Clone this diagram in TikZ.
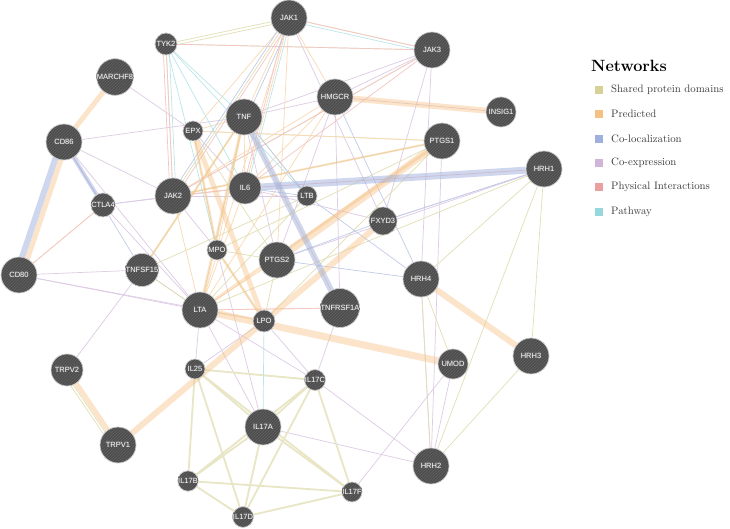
\documentclass[tikz,border=0pt]{standalone}
\usepackage{fontspec}
\usepackage[copies]{contour}
\usetikzlibrary{patterns,backgrounds}
\newfontfamily\labfont{Liberation Sans}
\definecolor{shd}{RGB}{214,210,150}
\definecolor{prd}{RGB}{246,192,128}
\definecolor{col}{RGB}{160,176,222}
\definecolor{cex}{RGB}{208,180,218}
\definecolor{phy}{RGB}{235,160,160}
\definecolor{pwy}{RGB}{150,216,220}
\definecolor{ndark}{RGB}{78,78,78}
\definecolor{nstripe}{RGB}{98,98,98}
\definecolor{nrim}{RGB}{205,205,205}
\definecolor{halo}{RGB}{95,95,95}
\definecolor{legtext}{RGB}{60,60,60}
\contourlength{0.55pt}
\newcommand\lbl[1]{\contour{halo}{#1}}
\tikzset{
  gn/.style={circle, minimum size=#1, inner sep=0pt, preaction={fill=ndark},
    pattern=north east lines, pattern color=nstripe, draw=nrim, line width=0.7pt,
    font=\labfont\fontsize{7.5}{8}\selectfont, text=white},
  sh/.style={draw=shd!70, line width=0.7pt},
  shm/.style={draw=shd!55, line width=1.8pt},
  pr/.style={draw=prd!60, line width=0.7pt},
  prt/.style={draw=prd, line width=#1, opacity=0.42},
  co/.style={draw=col!65, line width=0.7pt},
  cot/.style={draw=col, line width=#1, opacity=0.5},
  ce/.style={draw=cex!70, line width=0.7pt},
  ph/.style={draw=phy!60, line width=0.7pt},
  pw/.style={draw=pwy!65, line width=0.7pt},
  legsq/.style={minimum size=7.5pt, inner sep=0pt},
  legtx/.style={anchor=west, inner sep=0pt, text=legtext, font=\fontsize{10.8}{12}\selectfont}
}
\begin{document}
\begin{tikzpicture}[x=1pt,y=-1pt]
\useasboundingbox (0,0) rectangle (730,529);
% nodes
\node[gn=36pt] (jak1) at (289,18) {\lbl{JAK1}};
\node[gn=22pt] (tyk2) at (166,44) {\lbl{TYK2}};
\node[gn=36pt] (jak3) at (432,50) {\lbl{JAK3}};
\node[gn=24pt] (marchf8) at (115,77) {\lbl{MARCHF8}};
\node[gn=36pt] (hmgcr) at (335,97) {\lbl{HMGCR}};
\node[gn=30pt] (insig1) at (501,112) {\lbl{INSIG1}};
\node[gn=36pt] (tnf) at (244,117) {\lbl{TNF}};
\node[gn=20pt] (epx) at (193,131) {\lbl{EPX}};
\node[gn=36pt] (cd86) at (64,142) {\lbl{CD86}};
\node[gn=36pt] (ptgs1) at (442,141) {\lbl{PTGS1}};
\node[gn=36pt] (hrh1) at (544,169) {\lbl{HRH1}};
\node[gn=32pt] (il6) at (245,188) {\lbl{IL6}};
\node[gn=20pt] (ltb) at (307,196) {\lbl{LTB}};
\node[gn=36pt] (jak2) at (173,196) {\lbl{JAK2}};
\node[gn=22pt] (ctla4) at (103,205) {\lbl{CTLA4}};
\node[gn=28pt] (fxyd3) at (383,221) {\lbl{FXYD3}};
\node[gn=20pt] (mpo) at (217,250) {\lbl{MPO}};
\node[gn=36pt] (ptgs2) at (277,260) {\lbl{PTGS2}};
\node[gn=20pt] (tnfsf15) at (142,270) {\lbl{TNFSF15}};
\node[gn=36pt] (cd80) at (19,275) {\lbl{CD80}};
\node[gn=36pt] (hrh4) at (421,279) {\lbl{HRH4}};
\node[gn=24pt] (tnfrsf1a) at (340,308) {\lbl{TNFRSF1A}};
\node[gn=36pt] (lta) at (200,310) {\lbl{LTA}};
\node[gn=22pt] (lpo) at (264,321) {\lbl{LPO}};
\node[gn=30pt] (umod) at (453,364) {\lbl{UMOD}};
\node[gn=36pt] (hrh3) at (531,356) {\lbl{HRH3}};
\node[gn=32pt] (trpv2) at (67,370) {\lbl{TRPV2}};
\node[gn=20pt] (il25) at (195,369) {\lbl{IL25}};
\node[gn=20pt] (il17c) at (315,380) {\lbl{IL17C}};
\node[gn=36pt] (il17a) at (263,427) {\lbl{IL17A}};
\node[gn=36pt] (trpv1) at (118,445) {\lbl{TRPV1}};
\node[gn=36pt] (hrh2) at (431,466) {\lbl{HRH2}};
\node[gn=20pt] (il17b) at (188,481) {\lbl{IL17B}};
\node[gn=20pt] (il17f) at (352,492) {\lbl{IL17F}};
\node[gn=20pt] (il17d) at (243,517) {\lbl{IL17D}};
% legend
\node[anchor=west, inner sep=0pt, font=\fontsize{16.3}{18}\selectfont\bfseries] (ltitle) at (591,66) {Networks};
\node[legsq, fill=shd] (lsq1) at (599,90) {};
\node[legtx] (ltx1) at (611,90) {Shared protein domains};
\node[legsq, fill=prd] (lsq2) at (599,114) {};
\node[legtx] (ltx2) at (611,114) {Predicted};
\node[legsq, fill=col] (lsq3) at (599,139) {};
\node[legtx] (ltx3) at (611,139) {Co-localization};
\node[legsq, fill=cex] (lsq4) at (599,163) {};
\node[legtx] (ltx4) at (611,163) {Co-expression};
\node[legsq, fill=phy] (lsq5) at (599,187) {};
\node[legtx] (ltx5) at (611,187) {Physical Interactions};
\node[legsq, fill=pwy] (lsq6) at (599,212) {};
\node[legtx] (ltx6) at (611,212) {Pathway};
% edges
\begin{scope}[on background layer]
\fill[white] (0,0) rectangle (730,529);
% thin co-expression
\foreach \a/\b in {marchf8/epx, cd86/tnf, cd86/jak2, cd86/lta, cd80/tnfsf15, cd80/lta, cd80/lpo,
  ctla4/jak2, ctla4/il6, ctla4/lta, trpv2/tnfsf15, jak3/hmgcr, jak3/tnf, jak3/hrh4, jak3/fxyd3,
  hmgcr/tnf, hmgcr/tnfrsf1a, hmgcr/insig1, ptgs1/hrh2, fxyd3/hrh1, ptgs2/hrh1, hrh4/hrh2,
  umod/hrh2, umod/il17f, il17a/hrh2, il17c/hrh2, il25/lta, il25/lpo, il17a/lta,
  il17c/tnfrsf1a, il17c/lta, tnfsf15/lta, jak2/ltb, epx/il6, tnf/ptgs2, jak1/fxyd3, mpo/il17a,
  lpo/il17c, il25/il17c, hmgcr/ptgs2, il6/fxyd3, jak2/mpo}
  \draw[ce] (\a) -- (\b);
% thin shared domains
\foreach \a/\b in {tyk2/jak1, tyk2/jak3, tyk2/jak2, jak1/jak3, jak1/jak2, jak3/jak2,
  tnf/lta, tnf/ltb, lta/ltb, tnf/tnfsf15, lta/tnfsf15, ltb/tnfsf15,
  epx/mpo, mpo/lpo, ptgs1/epx, ptgs1/mpo, ptgs1/lpo, ptgs2/epx, ptgs2/mpo, ptgs2/lpo,
  hrh1/hrh2, hrh1/hrh3, hrh1/hrh4, hrh2/hrh3, hrh2/hrh4, umod/hrh4, hrh1/lta, ptgs1/jak2}
  \draw[sh] (\a) -- (\b);
\draw[sh] ([xshift=-4pt]trpv2.center) -- ([xshift=-4pt]trpv1.center);
\draw[sh] ([xshift=-7pt]trpv2.center) -- ([xshift=-7pt]trpv1.center);
\draw[sh] ([yshift=-3pt]tyk2.center) -- ([yshift=-3pt]jak1.center);
% IL17 family
\foreach \a/\b in {il25/il17a, il25/il17b, il25/il17c, il25/il17d, il25/il17f,
  il17a/il17b, il17a/il17c, il17a/il17d, il17a/il17f, il17b/il17c, il17b/il17d,
  il17b/il17f, il17c/il17d, il17c/il17f, il17d/il17f}
  \draw[shm] (\a) -- (\b);
% thin predicted
\foreach \a/\b in {jak1/tnf, jak1/lta, jak1/epx, jak1/hmgcr, jak1/ptgs2, hmgcr/jak2, hmgcr/il6,
  tnf/il6, jak2/il6, il6/lta, cd80/ctla4, jak2/lta, epx/tnf, lta/lpo, ptgs2/lta,
  tnfrsf1a/lta, jak1/il6, hmgcr/lta, tnf/mpo, epx/ptgs1, tnfrsf1a/tnf}
  \draw[pr] (\a) -- (\b);
% thin physical
\foreach \a/\b in {tyk2/jak2, tyk2/jak3, jak1/jak3, jak3/jak2, jak2/il6,
  il6/hrh1, lta/tnfrsf1a, cd86/ctla4, cd80/ctla4, jak3/il6}
  \draw[ph] (\a) -- (\b);
\draw[ph] ([xshift=3pt]jak1.center) -- ([xshift=3pt]jak2.center);
\draw[ph] ([xshift=-2pt]jak1.center) -- ([xshift=-2pt]il6.center);
\draw[ph] ([xshift=-3pt]tyk2.center) -- ([xshift=-3pt]jak2.center);
% thin pathway
\foreach \a/\b in {tyk2/tnf, tyk2/il6, lpo/il17a, tyk2/ltb, tyk2/mpo}
  \draw[pw] (\a) -- (\b);
\draw[pw] ([xshift=2pt]jak1.center) -- ([xshift=2pt]il6.center);
\draw[pw] ([yshift=-3pt]jak1.center) -- ([yshift=-3pt]jak3.center);
\draw[pw] ([xshift=3pt]tyk2.center) -- ([xshift=3pt]jak2.center);
% thin co-localization
\foreach \a/\b in {hmgcr/hrh4, ptgs2/hrh4, ltb/hrh4, il6/ltb, tnf/ltb,
  fxyd3/hrh1, ptgs2/fxyd3, cd86/tnfsf15}
  \draw[co] (\a) -- (\b);
\draw[co] ([xshift=-3pt]jak1.center) -- ([xshift=-3pt]jak2.center);
\draw[co] ([xshift=3pt]jak1.center) -- ([xshift=3pt]tnf.center);
% thick predicted
\foreach \a/\b/\w in {marchf8/cd86/5pt, hmgcr/insig1/6pt, ptgs1/ptgs2/7pt, ptgs1/lta/3pt,
  trpv1/fxyd3/6pt, lta/umod/7pt, hrh4/hrh3/6pt, trpv2/trpv1/5pt, epx/lpo/5pt,
  epx/mpo/2.5pt, tnf/lta/3pt, mpo/lpo/2.5pt, tnfsf15/tnf/2pt, jak2/ptgs1/2pt}
  \draw[prt=\w] (\a) -- (\b);
\draw[prt=5pt] ([xshift=3pt]cd86.center) -- ([xshift=3pt]cd80.center);
% thick co-localization
\draw[cot=6pt] ([xshift=-3pt]cd86.center) -- ([xshift=-3pt]cd80.center);
\draw[cot=4pt] (cd86) -- (ctla4);
\draw[cot=7pt] (il6) -- (hrh1);
\draw[cot=6pt] (tnf) -- (tnfrsf1a);
\end{scope}
\end{tikzpicture}
\end{document}
